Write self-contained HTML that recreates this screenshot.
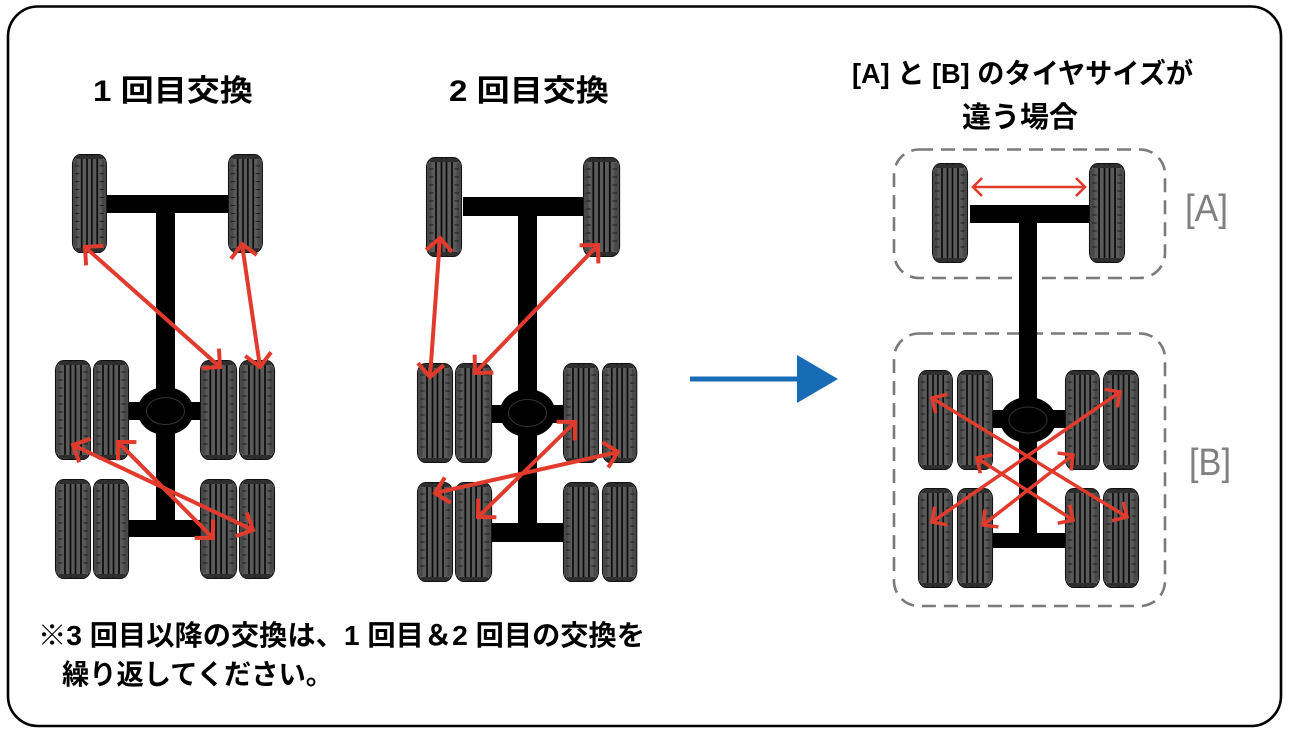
<!DOCTYPE html>
<html><head><meta charset="utf-8">
<style>
html,body{margin:0;padding:0;background:#fff;}
svg{display:block;}
.t{font-family:"Liberation Sans","Noto Sans CJK JP",sans-serif;font-weight:700;fill:#000;}
.lb{font-family:"Liberation Sans",sans-serif;font-weight:400;fill:#808080;}
</style></head>
<body>
<svg width="1289" height="736" viewBox="0 0 1289 736" xmlns="http://www.w3.org/2000/svg">
<defs>
  <g id="t">
    <rect x="0.6" y="0.6" width="34.8" height="98.8" rx="8" ry="10" fill="#5a5a5a" stroke="#111" stroke-width="1.3"/>
    <rect x="1" y="6" width="4.5" height="88" fill="#484848"/>
    <rect x="30.5" y="6" width="4.5" height="88" fill="#484848"/>
    <g stroke="#0a0a0a" stroke-width="1.7">
      <line x1="10" y1="2" x2="10" y2="98"/>
      <line x1="15.5" y1="1" x2="15.5" y2="99"/>
      <line x1="20.5" y1="1" x2="20.5" y2="99"/>
      <line x1="26" y1="2" x2="26" y2="98"/>
    </g>
    <g stroke="#111" stroke-width="0.8">
      <line x1="3" y1="12" x2="7.5" y2="12"/><line x1="3" y1="20" x2="7.5" y2="20"/><line x1="3" y1="28" x2="7.5" y2="28"/><line x1="3" y1="36" x2="7.5" y2="36"/><line x1="3" y1="44" x2="7.5" y2="44"/><line x1="3" y1="52" x2="7.5" y2="52"/><line x1="3" y1="60" x2="7.5" y2="60"/><line x1="3" y1="68" x2="7.5" y2="68"/><line x1="3" y1="76" x2="7.5" y2="76"/><line x1="3" y1="84" x2="7.5" y2="84"/>
      <line x1="28.5" y1="12" x2="33" y2="12"/><line x1="28.5" y1="20" x2="33" y2="20"/><line x1="28.5" y1="28" x2="33" y2="28"/><line x1="28.5" y1="36" x2="33" y2="36"/><line x1="28.5" y1="44" x2="33" y2="44"/><line x1="28.5" y1="52" x2="33" y2="52"/><line x1="28.5" y1="60" x2="33" y2="60"/><line x1="28.5" y1="68" x2="33" y2="68"/><line x1="28.5" y1="76" x2="33" y2="76"/><line x1="28.5" y1="84" x2="33" y2="84"/>
    </g>
    <rect x="4" y="1.5" width="28" height="3.5" fill="#2e2e2e"/>
    <rect x="4" y="95" width="28" height="3.5" fill="#2e2e2e"/>
  </g>
  <marker id="ah" viewBox="0 0 20 20" refX="18" refY="10" markerWidth="20" markerHeight="20" markerUnits="userSpaceOnUse" orient="auto-start-reverse" overflow="visible">
    <path d="M5,-3 L18,10 L5,23" fill="none" stroke="#e03b2d" stroke-width="4"/>
  </marker>
  <marker id="ah2" viewBox="0 0 20 20" refX="18" refY="10" markerWidth="20" markerHeight="20" markerUnits="userSpaceOnUse" orient="auto-start-reverse" overflow="visible">
    <path d="M7,-1 L18,10 L7,21" fill="none" stroke="#e03b2d" stroke-width="3.5"/>
  </marker>
  <marker id="ah3" viewBox="0 0 20 20" refX="18" refY="10" markerWidth="20" markerHeight="20" markerUnits="userSpaceOnUse" orient="auto-start-reverse" overflow="visible">
    <path d="M9,1 L18,10 L9,19" fill="none" stroke="#e03b2d" stroke-width="2.6"/>
  </marker>
</defs>

<!-- frame -->
<rect x="8" y="6.5" width="1273" height="719.5" rx="30" fill="#fff" stroke="#000" stroke-width="2.6"/>

<!-- titles -->
<text class="t" x="93" y="101" font-size="30" textLength="160" lengthAdjust="spacingAndGlyphs">1 回目交換</text>
<text class="t" x="449" y="101" font-size="30" textLength="160" lengthAdjust="spacingAndGlyphs">2 回目交換</text>
<text class="t" x="852" y="83" font-size="28" textLength="341" lengthAdjust="spacingAndGlyphs">[A] と [B] のタイヤサイズが</text>
<text class="t" x="962" y="127" font-size="29" textLength="116" lengthAdjust="spacingAndGlyphs">違う場合</text>

<!-- ===== LEFT DIAGRAM ===== -->
<g fill="#000">
  <rect x="107" y="195" width="121" height="18"/>
  <rect x="156" y="195" width="19" height="342"/>
  <rect x="129" y="402" width="72" height="18"/>
  <rect x="129" y="520" width="72" height="17"/>
  <ellipse cx="165.5" cy="411" rx="28" ry="24"/>
</g>
<ellipse cx="165.5" cy="411" rx="19" ry="13.5" fill="#000" stroke="#333" stroke-width="1"/>
<use href="#t" transform="translate(72,154) scale(0.97,0.99)"/>
<use href="#t" transform="translate(228,154) scale(0.97,0.99)"/>
<use href="#t" transform="translate(55,360)"/>
<use href="#t" transform="translate(93,360)"/>
<use href="#t" transform="translate(200,360) scale(1.03,1)"/>
<use href="#t" transform="translate(239,360)"/>
<use href="#t" transform="translate(55,479)"/>
<use href="#t" transform="translate(93,479)"/>
<use href="#t" transform="translate(200,479) scale(1.03,1)"/>
<use href="#t" transform="translate(239,479)"/>
<g stroke="#e03b2d" stroke-width="4" fill="none" marker-start="url(#ah)" marker-end="url(#ah)">
  <line x1="85" y1="247" x2="220" y2="367"/>
  <line x1="242" y1="244" x2="260" y2="367"/>
  <line x1="73" y1="445" x2="253" y2="530"/>
  <line x1="118" y1="442" x2="213" y2="538"/>
</g>

<!-- ===== MIDDLE DIAGRAM ===== -->
<g fill="#000">
  <rect x="463" y="197" width="121" height="19"/>
  <rect x="518" y="197" width="19" height="345"/>
  <rect x="491" y="405" width="73" height="18"/>
  <rect x="491" y="523" width="73" height="19"/>
  <ellipse cx="527.5" cy="413" rx="28" ry="24"/>
</g>
<ellipse cx="527.5" cy="413" rx="19" ry="13.5" fill="#000" stroke="#333" stroke-width="1"/>
<use href="#t" transform="translate(426,157)"/>
<use href="#t" transform="translate(583,157) scale(1.03,1)"/>
<use href="#t" transform="translate(417,363)"/>
<use href="#t" transform="translate(455,363) scale(1.03,1)"/>
<use href="#t" transform="translate(563,363)"/>
<use href="#t" transform="translate(602,363) scale(0.98,1)"/>
<use href="#t" transform="translate(417,482)"/>
<use href="#t" transform="translate(455,482) scale(1.03,1)"/>
<use href="#t" transform="translate(563,482)"/>
<use href="#t" transform="translate(602,482) scale(0.98,1)"/>
<g stroke="#e03b2d" stroke-width="4" fill="none" marker-start="url(#ah)" marker-end="url(#ah)">
  <line x1="440" y1="238" x2="430" y2="377"/>
  <line x1="598" y1="245" x2="475" y2="373"/>
  <line x1="575" y1="422" x2="478" y2="517"/>
  <line x1="618" y1="452" x2="435" y2="493"/>
</g>

<!-- blue arrow -->
<rect x="690" y="376.5" width="110" height="5" fill="#176cb5"/>
<polygon points="797,355 838,379 797,403" fill="#176cb5"/>

<!-- ===== RIGHT DIAGRAM ===== -->
<rect x="894" y="149.5" width="271" height="128.5" rx="25" fill="none" stroke="#7a7a7a" stroke-width="2.6" stroke-dasharray="14 8"/>
<rect x="894" y="333.5" width="271" height="272.5" rx="25" fill="none" stroke="#7a7a7a" stroke-width="2.6" stroke-dasharray="14 8"/>
<g fill="#000">
  <rect x="970" y="205" width="119" height="18"/>
  <rect x="1019" y="205" width="18" height="343"/>
  <rect x="993" y="410" width="72" height="18"/>
  <rect x="993" y="533" width="72" height="15"/>
  <ellipse cx="1028" cy="420" rx="28" ry="23"/>
</g>
<ellipse cx="1028" cy="420" rx="19" ry="13" fill="#000" stroke="#333" stroke-width="1"/>
<use href="#t" transform="translate(932,163)"/>
<use href="#t" transform="translate(1089,163)"/>
<use href="#t" transform="translate(918,370) scale(0.97,1)"/>
<use href="#t" transform="translate(957,370)"/>
<use href="#t" transform="translate(1065,370) scale(0.97,1)"/>
<use href="#t" transform="translate(1103,370)"/>
<use href="#t" transform="translate(918,488) scale(0.97,1)"/>
<use href="#t" transform="translate(957,488)"/>
<use href="#t" transform="translate(1065,488) scale(0.97,1)"/>
<use href="#t" transform="translate(1103,488)"/>
<line x1="973" y1="187" x2="1085" y2="187" stroke="#e03b2d" stroke-width="2.6" marker-start="url(#ah3)" marker-end="url(#ah3)"/>
<g stroke="#e03b2d" stroke-width="3.5" fill="none" marker-start="url(#ah2)" marker-end="url(#ah2)">
  <line x1="932" y1="398" x2="1127" y2="517"/>
  <line x1="1120" y1="392" x2="932" y2="522"/>
  <line x1="977" y1="458" x2="1073" y2="520"/>
  <line x1="1073" y1="455" x2="983" y2="525"/>
</g>
<text class="lb" x="1185" y="221" font-size="38" textLength="43" lengthAdjust="spacingAndGlyphs">[A]</text>
<text class="lb" x="1189" y="475" font-size="38" textLength="42" lengthAdjust="spacingAndGlyphs">[B]</text>

<!-- bottom note -->
<text class="t" x="38" y="645" font-size="28" textLength="607" lengthAdjust="spacingAndGlyphs">※3 回目以降の交換は、1 回目＆2 回目の交換を</text>
<text class="t" x="62" y="684" font-size="28" textLength="271" lengthAdjust="spacingAndGlyphs">繰り返してください。</text>
</svg>
</body></html>
